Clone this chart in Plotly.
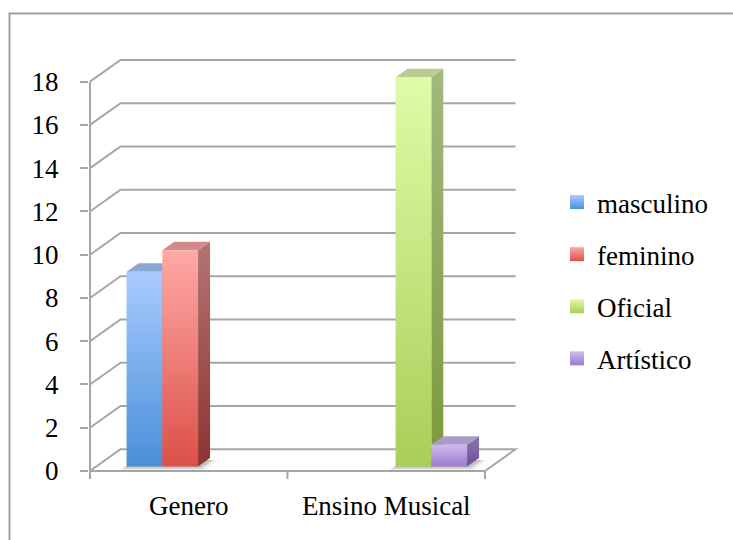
import plotly.graph_objects as go

# ---- data ----
categories = ["Genero", "Ensino Musical"]
series_names = ["masculino", "feminino", "Oficial", "Artístico"]
masculino = [9, 0]
feminino = [10, 0]
oficial = [0, 18]
artistico = [0, 1]
y_ticks = [0, 2, 4, 6, 8, 10, 12, 14, 16, 18]

series_values = [masculino, feminino, oficial, artistico]

# ---- styling: (front top, front bottom, side top, side bottom, top face) ----
palette = [
    ("#A9CBFF", "#4A8FD9", "#6F8FBF", "#3E6EA8", "#88A7D3"),
    ("#FFA9A6", "#DC5048", "#B47474", "#8C3330", "#D08A88"),
    ("#E0FBA8", "#A9CE58", "#A3B87F", "#7A9A3A", "#B7CC8E"),
    ("#CEB9EF", "#9B7BCB", "#8C74B2", "#6C5192", "#A99AC8"),
]
GRID = "#A6A6A6"
FONT = dict(family="Liberation Serif", size=27, color="#000000")

# ---- page geometry in pixels ----
W, H = 733, 540
PL, PR, PT, PB = 89, 519, 57, 480
X0PX, XPX_PER = 90.0, 197.5          # px of x=-0.5 and px per category
Y0PX, YPX_PER = 471.0, 21.63         # px of y=0 and px per unit
WALL_DX, WALL_DY = 30.5, 21.7        # depth of the floor / back wall
BAR_FRONT = (9.3, 4.5)               # bar front plane offset
BAR_BACK = (21.3, 13.0)              # bar back plane offset
GROUP_FRAC = 0.724                   # share of a category used by the bars


def ux(px):
    return px / XPX_PER


def uy(px):
    return px / YPX_PER


x_range = [-0.5 - ux(X0PX - PL), -0.5 + ux(PR - X0PX)]
y_range = [-uy(PB - Y0PX), uy(Y0PX - PT)]

fig = go.Figure()

x_left, x_right = -0.5, len(categories) - 0.5
wdx, wdy = ux(WALL_DX), uy(WALL_DY)

# floor
floor_path = (f"M{x_left},0 L{x_right},0 L{x_right + wdx},{wdy} "
              f"L{x_left + wdx},{wdy} Z")
fig.add_shape(type="path", path=floor_path, xref="x", yref="y",
              line=dict(color=GRID, width=2), fillcolor="white", layer="below")

# gridlines on the side and back walls
for v in y_ticks[1:]:
    p = (f"M{x_left},{v} L{x_left + wdx},{v + wdy} "
         f"L{x_right + wdx},{v + wdy}")
    fig.add_shape(type="path", path=p, xref="x", yref="y",
                  line=dict(color=GRID, width=2), layer="below")

# value axis line and category ticks
fig.add_trace(go.Scatter(x=[x_left, x_left], y=[y_ticks[-1], -uy(8)],
                         mode="lines", line=dict(color=GRID, width=2),
                         hoverinfo="skip", showlegend=False))
for k in range(len(categories) + 1):
    xt = x_left + k
    fig.add_trace(go.Scatter(x=[xt, xt], y=[0, -uy(8)], mode="lines",
                             line=dict(color=GRID, width=2),
                             hoverinfo="skip", showlegend=False))


def face(xs, ys, c_top, c_bot):
    fig.add_trace(go.Scatter(
        x=xs + [xs[0]], y=ys + [ys[0]], mode="lines", fill="toself",
        line=dict(width=0, color=c_bot),
        fillgradient=dict(type="vertical",
                          colorscale=[[0, c_bot], [1, c_top]]),
        hoverinfo="skip", showlegend=False))


def shadow(xs, ys, alpha):
    fig.add_trace(go.Scatter(
        x=xs + [xs[0]], y=ys + [ys[0]], mode="lines", fill="toself",
        line=dict(width=0, color="rgba(0,0,0,0)"),
        fillcolor=f"rgba(60,60,60,{alpha})",
        hoverinfo="skip", showlegend=False))


n = len(series_values)
bar_w = GROUP_FRAC / n
fdx, fdy = ux(BAR_FRONT[0]), uy(BAR_FRONT[1])
bdx, bdy = ux(BAR_BACK[0]), uy(BAR_BACK[1])

for ci in range(len(categories)):
    drawn = [si for si, vals in enumerate(series_values) if vals[ci] > 0]
    if not drawn:
        continue
    # soft floor shadow under the bars of this category
    sx0 = ci - GROUP_FRAC / 2 + drawn[0] * bar_w
    sx1 = ci - GROUP_FRAC / 2 + (drawn[-1] + 1) * bar_w
    for grow, alpha in ((7, 0.08), (4, 0.12), (2, 0.16)):
        g = ux(grow)
        shadow([sx0 + fdx - g, sx1 + fdx + g, sx1 + bdx + g, sx0 + bdx - g],
               [fdy - uy(grow * 0.6), fdy - uy(grow * 0.6),
                bdy - uy(2), bdy - uy(2)], alpha)
    for si in drawn:
        v = series_values[si][ci]
        ft, fb, st, sb, tp = palette[si]
        x0 = ci - GROUP_FRAC / 2 + si * bar_w
        x1 = x0 + bar_w
        # side face
        face([x1 + fdx, x1 + bdx, x1 + bdx, x1 + fdx],
             [fdy, bdy, v + bdy, v + fdy], st, sb)
        # top face
        face([x0 + fdx, x1 + fdx, x1 + bdx, x0 + bdx],
             [v + fdy, v + fdy, v + bdy, v + bdy], tp, tp)
        # front face
        face([x0 + fdx, x1 + fdx, x1 + fdx, x0 + fdx],
             [fdy, fdy, v + fdy, v + fdy], ft, fb)

# legend entries
for si, name in enumerate(series_names):
    ft, fb, st, sb, tp = palette[si]
    fig.add_trace(go.Scatter(
        x=[None], y=[None], mode="markers", name=name, legendgroup=name,
        marker=dict(symbol="square", size=14, color=ft,
                    gradient=dict(type="vertical", color=fb),
                    line=dict(width=0))))


# outer frame
def paper_x(px):
    return (px - PL) / (PR - PL)


def paper_y(px):
    return (PB - px) / (PB - PT)


fig.add_shape(type="rect", xref="paper", yref="paper",
              x0=paper_x(9.5), x1=paper_x(760), y0=paper_y(13.5), y1=paper_y(580),
              line=dict(color="#A0A0A0", width=2), fillcolor="rgba(0,0,0,0)")

fig.update_layout(
    width=W, height=H,
    margin=dict(l=PL, r=W - PR, t=PT, b=H - PB, pad=0),
    paper_bgcolor="white", plot_bgcolor="white",
    font=FONT,
    showlegend=True,
    legend=dict(xref="container", yref="container",
                x=557 / W, y=1 - 178 / H, xanchor="left", yanchor="top",
                font=FONT, tracegroupgap=14, bgcolor="rgba(0,0,0,0)",
                itemclick=False, itemdoubleclick=False),
    xaxis=dict(range=x_range, showgrid=False, zeroline=False, showline=False,
               tickvals=list(range(len(categories))), ticktext=categories,
               ticks="", tickfont=FONT, ticklabelstandoff=7,
               fixedrange=True),
    yaxis=dict(range=y_range, showgrid=False, zeroline=False, showline=False,
               tickvals=y_ticks, ticks="outside", ticklen=8, tickwidth=2,
               tickcolor=GRID, tickfont=FONT, ticklabelstandoff=16,
               fixedrange=True),
)

fig.write_html("out.html")
